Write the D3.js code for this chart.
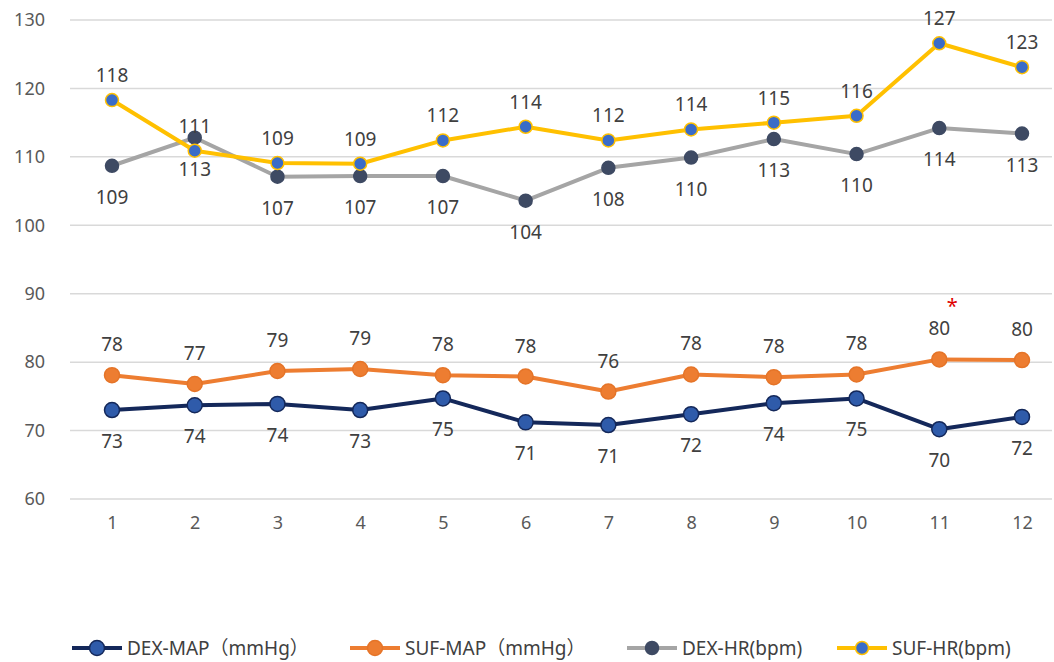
<!DOCTYPE html>
<html><head><meta charset="utf-8">
<script src="https://cdn.jsdelivr.net/npm/d3@7"></script>
<style>
html,body{margin:0;padding:0;background:#fff;}
svg{display:block;font-family:"Noto Sans","Noto Sans CJK SC",sans-serif;}
</style></head>
<body>
<svg id="chart" width="1054" height="662"></svg>
<script>
const categories = [1,2,3,4,5,6,7,8,9,10,11,12];
const dexMap = [73, 73.7, 73.9, 73, 74.7, 71.2, 70.8, 72.4, 74, 74.7, 70.2, 72];
const sufMap = [78.1, 76.8, 78.7, 79, 78.1, 77.9, 75.7, 78.2, 77.8, 78.2, 80.4, 80.3];
const dexHr = [108.7, 112.8, 107.1, 107.2, 107.2, 103.6, 108.4, 109.9, 112.6, 110.4, 114.2, 113.4];
const sufHr = [118.3, 110.9, 109.1, 109, 112.4, 114.4, 112.4, 114, 115, 116, 126.6, 123.1];
const yTicks = [60,70,80,90,100,110,120,130];
const seriesNames = ["DEX-MAP（mmHg）","SUF-MAP（mmHg）","DEX-HR(bpm)","SUF-HR(bpm)"];
const markedCategory = 11;

const series = [
  {name: seriesNames[0], values: dexMap, line:"#14285A", fill:"#2F5BAA", stroke:"#14285A", r:7.5, labelDy: 31},
  {name: seriesNames[1], values: sufMap, line:"#ED7D31", fill:"#ED7D31", stroke:"#E57428", r:7.5, labelDy: -31},
  {name: seriesNames[2], values: dexHr, line:"#A5A5A5", fill:"#3E4A63", stroke:"#3E4A63", r:6.5, labelDy: 31},
  {name: seriesNames[3], values: sufHr, line:"#FFC000", fill:"#3A6CC8", stroke:"#FFC000", r:6.5, labelDy: -25}
];

const svg = d3.select("#chart");
const x = d3.scalePoint().domain(categories).range([112, 1022]);
const y = d3.scaleLinear().domain([60,130]).range([499, 20]);
const gridX0 = 70, gridX1 = 1052;

// gridlines
svg.append("g").selectAll("line").data(yTicks).join("line")
  .attr("x1", gridX0).attr("x2", gridX1)
  .attr("y1", d=>y(d)).attr("y2", d=>y(d))
  .attr("stroke", "#D9D9D9").attr("stroke-width", 1.5);

// y axis labels
const yAxis = d3.axisLeft(y).tickValues(yTicks).tickSize(0).tickPadding(0);
const gy = svg.append("g").attr("transform", "translate(45,0)").call(yAxis);
gy.select(".domain").remove();
gy.selectAll("text").attr("font-size", 18).attr("fill", "#595959")
  .attr("font-family", "'Noto Sans', sans-serif");

// x axis labels
const xAxis = d3.axisBottom(x).tickSize(0).tickPadding(0);
const gx = svg.append("g").attr("transform", "translate(0,516)").call(xAxis);
gx.select(".domain").remove();
gx.selectAll("text").attr("font-size", 18).attr("fill", "#595959")
  .attr("font-family", "'Noto Sans', sans-serif");

const line = d3.line().x((d,i)=>x(categories[i])).y(d=>y(d));

series.forEach(s => {
  const g = svg.append("g");
  g.append("path").datum(s.values).attr("d", line)
    .attr("fill","none").attr("stroke", s.line).attr("stroke-width", 4)
    .attr("stroke-linejoin","round");
  g.selectAll("circle").data(s.values).join("circle")
    .attr("cx", (d,i)=>x(categories[i])).attr("cy", d=>y(d)).attr("r", s.r)
    .attr("fill", s.fill).attr("stroke", s.stroke).attr("stroke-width", 1.5);
});

// data labels
series.forEach(s => {
  svg.append("g").selectAll("text").data(s.values).join("text")
    .attr("x", (d,i)=>x(categories[i])).attr("y", d=>y(d) + s.labelDy)
    .attr("text-anchor","middle").attr("dominant-baseline","central")
    .attr("font-size", 19).attr("fill", "#404040")
    .text(d=>Math.round(d));
});

// significance marker
svg.append("text").attr("x", x(markedCategory) + 13).attr("y", y(sufMap[categories.indexOf(markedCategory)]) - 54)
  .attr("text-anchor","middle").attr("dominant-baseline","central")
  .attr("font-size", 20).attr("fill", "#E00000").text("*");

// legend
const legendX = [72, 350, 627, 837];
const legendY = 648;
const lg = svg.append("g");
series.forEach((s, i) => {
  const g = lg.append("g").attr("transform", `translate(${legendX[i]},${legendY})`);
  g.append("line").attr("x1",0).attr("x2",50).attr("y1",0).attr("y2",0)
    .attr("stroke", s.line).attr("stroke-width", 4);
  g.append("circle").attr("cx",25).attr("cy",0).attr("r", s.r)
    .attr("fill", s.fill).attr("stroke", s.stroke).attr("stroke-width",1.5);
  g.append("text").attr("x", 55).attr("y", 0).attr("dominant-baseline","central")
    .attr("font-size", 19).attr("fill", "#404040").text(s.name);
});
</script>
</body></html>
